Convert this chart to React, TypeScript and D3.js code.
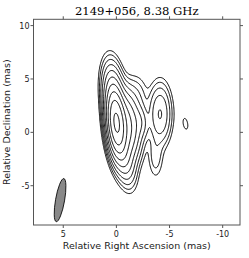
import React, { useEffect, useRef } from "react";
import * as d3 from "d3";

// model components (mas, relative flux)
const compRA = [0.0, -0.9, 0.3, -0.6, -2.3, -4.1, -3.7, -6.5, -1.9];
const compDec = [0.9, 0.7, 3.6, -1.8, 1.0, 1.7, -2.2, 0.8, 3.2];
const compPeak = [1.0, 0.15, 0.07, 0.06, 0.018, 0.03, 0.0055, 0.002, 0.006];
const compMaj = [1.5, 1.6, 1.5, 1.5, 0.9, 1.45, 1.2, 1.1, 1.2];
const compMin = [0.42, 0.65, 0.5, 0.5, 0.4, 0.55, 0.4, 0.45, 0.6];
const compPA = [5, 5, 5, 10, 5, 0, 0, 10, 0];

const levels = [0.0018, 0.0036, 0.0072, 0.0144, 0.0288, 0.0575, 0.115, 0.23, 0.46, 0.92];

const xTicks = [5, 0, -5, -10];
const yTicks = [10, 5, 0, -5];

const beamRA = 5.3;
const beamDec = -6.35;
const beamMaj = 4.1;
const beamMin = 0.85;
const beamPA = 10;

const W = 249, H = 258;
const left = 33.5, right = 240, top = 19.3, bottom = 225;

export default function App() {
  const ref = useRef<SVGSVGElement>(null);

  useEffect(() => {
    const svg = d3.select(ref.current);
    svg.selectAll("*").remove();

    const x = d3.scaleLinear().domain([7.8, -11.63]).range([left, right]);
    const y = d3.scaleLinear().domain([-8.68, 10.59]).range([bottom, top]);

    const raMax = 8, decMax = 11, step = 0.08;
    const nx = 251, ny = 251;
    const values = new Float64Array(nx * ny);
    for (let j = 0; j < ny; j++) {
      const dec = decMax - j * step;
      for (let i = 0; i < nx; i++) {
        const ra = raMax - i * step;
        let v = 0;
        for (let k = 0; k < compRA.length; k++) {
          const pa = (compPA[k] * Math.PI) / 180;
          const dx = ra - compRA[k], dy = dec - compDec[k];
          const u = dx * Math.sin(pa) + dy * Math.cos(pa);
          const w = dx * Math.cos(pa) - dy * Math.sin(pa);
          v += compPeak[k] * Math.exp(-0.5 * ((u * u) / (compMaj[k] * compMaj[k]) + (w * w) / (compMin[k] * compMin[k])));
        }
        values[j * nx + i] = v;
      }
    }

    const contours = d3.contours().size([nx, ny]).thresholds(levels)(values as any);
    const proj = d3.geoTransform({
      point: function (px: number, py: number) {
        this.stream.point(x(raMax - (px - 0.5) * step), y(decMax - (py - 0.5) * step));
      },
    });
    const path = d3.geoPath(proj);

    svg.append("clipPath").attr("id", "clip")
      .append("rect").attr("x", left).attr("y", top)
      .attr("width", right - left).attr("height", bottom - top);

    svg.append("g").attr("clip-path", "url(#clip)")
      .selectAll("path").data(contours).enter().append("path")
      .attr("d", (d: any) => path(d) as string)
      .attr("fill", "none").attr("stroke", "#000").attr("stroke-width", 1);

    // beam
    const bx = x(beamRA), by = y(beamDec);
    svg.append("ellipse")
      .attr("cx", bx).attr("cy", by)
      .attr("rx", (beamMin / 2) * 10.63).attr("ry", (beamMaj / 2) * 10.67)
      .attr("transform", `rotate(${beamPA} ${bx} ${by})`)
      .attr("fill", "#888").attr("stroke", "#000").attr("stroke-width", 0.8);

    // frame
    svg.append("rect").attr("x", left).attr("y", top)
      .attr("width", right - left).attr("height", bottom - top)
      .attr("fill", "none").attr("stroke", "#555").attr("stroke-width", 1);

    const tk = svg.append("g").attr("stroke", "#555").attr("stroke-width", 1);
    xTicks.forEach((t) => {
      tk.append("line").attr("x1", x(t)).attr("x2", x(t)).attr("y1", bottom).attr("y2", bottom + 3);
      tk.append("line").attr("x1", x(t)).attr("x2", x(t)).attr("y1", top).attr("y2", top - 3);
    });
    yTicks.forEach((t) => {
      tk.append("line").attr("y1", y(t)).attr("y2", y(t)).attr("x1", left).attr("x2", left - 3);
      tk.append("line").attr("y1", y(t)).attr("y2", y(t)).attr("x1", right).attr("x2", right + 3);
    });

    const font = "DejaVu Sans, sans-serif";
    svg.append("g").selectAll("text").data(xTicks).enter().append("text")
      .attr("x", (d) => x(d)).attr("y", 236.5).attr("text-anchor", "middle")
      .attr("font-family", font).attr("font-size", 8).attr("fill", "#222")
      .text((d) => (d < 0 ? "-" + Math.abs(d) : String(d)));
    svg.append("g").selectAll("text").data(yTicks).enter().append("text")
      .attr("x", left - 4).attr("y", (d) => y(d) + 3).attr("text-anchor", "end")
      .attr("font-family", font).attr("font-size", 8).attr("fill", "#222")
      .text((d) => (d < 0 ? "-" + Math.abs(d) : String(d)));

    svg.append("text").attr("x", (left + right) / 2).attr("y", 249)
      .attr("text-anchor", "middle").attr("font-family", font).attr("font-size", 9.5)
      .attr("fill", "#222").text("Relative Right Ascension (mas)");
    svg.append("text").attr("transform", `translate(9.5 ${(top + bottom) / 2}) rotate(-90)`)
      .attr("text-anchor", "middle").attr("font-family", font).attr("font-size", 9.5)
      .attr("fill", "#222").text("Relative Declination (mas)");
    svg.append("text").attr("x", (left + right) / 2).attr("y", 15)
      .attr("text-anchor", "middle").attr("font-family", "DejaVu Serif, serif").attr("font-size", 11.6)
      .attr("fill", "#000").text("2149+056, 8.38 GHz");
  }, []);

  return (
    <svg ref={ref} width={W} height={H}
      style={{ position: "absolute", left: 0, top: 0, background: "#fff" }} />
  );
}
